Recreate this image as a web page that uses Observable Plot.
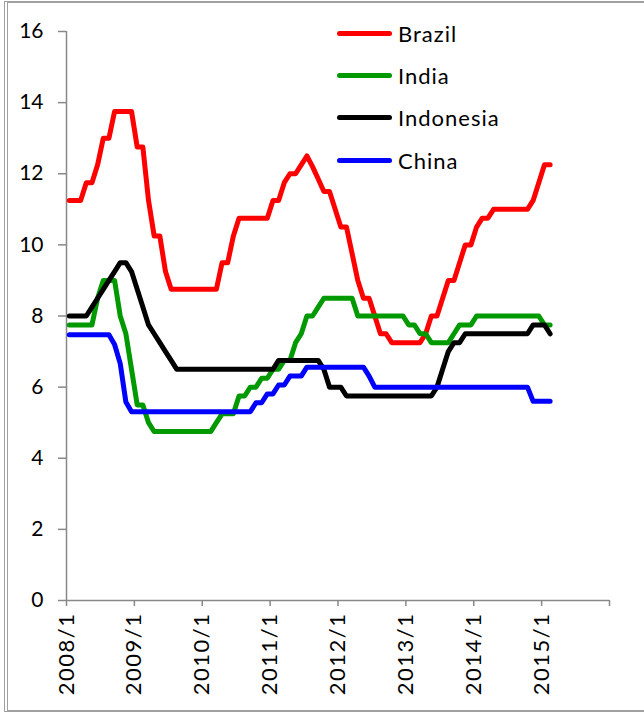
<!DOCTYPE html>
<html><head><meta charset="utf-8">
<script src="https://cdn.jsdelivr.net/npm/d3@7"></script>
<script src="https://cdn.jsdelivr.net/npm/@observablehq/plot@0.6"></script>
<style>
body{margin:0;background:#fff;}
#wrap{position:relative;width:644px;height:714px;overflow:hidden;background:#fff;}
#frame{position:absolute;left:4px;top:1px;width:660px;height:711px;border-left:4px double #a0a0a0;border-top:2px solid #a0a0a0;border-bottom:2px solid #a0a0a0;box-sizing:border-box;pointer-events:none}
#legend{position:absolute;left:337px;top:12px;font:22px Lato,sans-serif;letter-spacing:1px;color:#000}
.row{display:flex;align-items:center;height:42.4px}
.sw{width:55px;height:5px;border-radius:3px;margin-right:6px}
#chart svg g[aria-label$="tick"] line, #chart svg g[aria-label$="tick"] path{stroke:#888;stroke-width:1.5px}
#chart svg g[aria-label="x-axis tick label"] text{font-size:22px;letter-spacing:1.5px}
#chart svg g[aria-label="y-axis tick label"] text{font-size:21px}
</style></head>
<body>
<div id="wrap"><div id="chart"></div><div id="legend"></div><div id="frame"></div></div>
<script>
const countries = ["Brazil","India","Indonesia","China"];
const colors = ["#ff0000","#009900","#000000","#0000ff"];
const tickLabels = ["2008/1","2009/1","2010/1","2011/1","2012/1","2013/1","2014/1","2015/1",""];
const yTicks = [0,2,4,6,8,10,12,14,16];

// monthly values, Jan 2008 .. Feb 2015
const brazil = [11.25,11.25,11.25,11.75,11.75,12.25,13.0,13.0,13.75,13.75,13.75,13.75,
  12.75,12.75,11.25,10.25,10.25,9.25,8.75,8.75,8.75,8.75,8.75,8.75,
  8.75,8.75,8.75,9.5,9.5,10.25,10.75,10.75,10.75,10.75,10.75,10.75,
  11.25,11.25,11.75,12.0,12.0,12.25,12.5,12.2,11.85,11.5,11.5,11.0,
  10.5,10.5,9.75,9.0,8.5,8.5,8.0,7.5,7.5,7.25,7.25,7.25,
  7.25,7.25,7.25,7.5,8.0,8.0,8.5,9.0,9.0,9.5,10.0,10.0,
  10.5,10.75,10.75,11.0,11.0,11.0,11.0,11.0,11.0,11.0,11.25,11.75,
  12.25,12.25];
const india = [7.75,7.75,7.75,7.75,7.75,8.5,9.0,9.0,9.0,8.0,7.5,6.5,
  5.5,5.5,5.0,4.75,4.75,4.75,4.75,4.75,4.75,4.75,4.75,4.75,
  4.75,4.75,5.0,5.25,5.25,5.25,5.75,5.75,6.0,6.0,6.25,6.25,
  6.5,6.5,6.75,6.75,7.25,7.5,8.0,8.0,8.25,8.5,8.5,8.5,
  8.5,8.5,8.5,8.0,8.0,8.0,8.0,8.0,8.0,8.0,8.0,8.0,
  7.75,7.75,7.5,7.5,7.25,7.25,7.25,7.25,7.5,7.75,7.75,7.75,
  8.0,8.0,8.0,8.0,8.0,8.0,8.0,8.0,8.0,8.0,8.0,8.0,
  7.75,7.75];
const indonesia = [8.0,8.0,8.0,8.0,8.25,8.5,8.75,9.0,9.25,9.5,9.5,9.25,
  8.75,8.25,7.75,7.5,7.25,7.0,6.75,6.5,6.5,6.5,6.5,6.5,
  6.5,6.5,6.5,6.5,6.5,6.5,6.5,6.5,6.5,6.5,6.5,6.5,
  6.5,6.75,6.75,6.75,6.75,6.75,6.75,6.75,6.75,6.5,6.0,6.0,
  6.0,5.75,5.75,5.75,5.75,5.75,5.75,5.75,5.75,5.75,5.75,5.75,
  5.75,5.75,5.75,5.75,5.75,6.0,6.5,7.0,7.25,7.25,7.5,7.5,
  7.5,7.5,7.5,7.5,7.5,7.5,7.5,7.5,7.5,7.5,7.75,7.75,
  7.75,7.5];
const china = [7.47,7.47,7.47,7.47,7.47,7.47,7.47,7.47,7.2,6.66,5.58,5.31,
  5.31,5.31,5.31,5.31,5.31,5.31,5.31,5.31,5.31,5.31,5.31,5.31,
  5.31,5.31,5.31,5.31,5.31,5.31,5.31,5.31,5.31,5.56,5.56,5.81,
  5.81,6.06,6.06,6.31,6.31,6.31,6.56,6.56,6.56,6.56,6.56,6.56,
  6.56,6.56,6.56,6.56,6.56,6.31,6.0,6.0,6.0,6.0,6.0,6.0,
  6.0,6.0,6.0,6.0,6.0,6.0,6.0,6.0,6.0,6.0,6.0,6.0,
  6.0,6.0,6.0,6.0,6.0,6.0,6.0,6.0,6.0,6.0,5.6,5.6,
  5.6,5.6];

const seriesValues = [brazil, india, indonesia, china];
const data = seriesValues.flatMap((vals, k) =>
  vals.map((v, i) => ({country: countries[k], t: i + 0.5, v})));

const chart = Plot.plot({
  width: 644, height: 714,
  marginLeft: 66, marginRight: 35, marginTop: 31, marginBottom: 114,
  style: {fontFamily: "Lato, sans-serif", fontSize: "20px", color: "#000", background: "transparent", overflow: "visible"},
  x: {domain: [0, 96], ticks: tickLabels.map((_, i) => i * 12),
      tickFormat: (d) => tickLabels[d / 12], tickRotate: -90, tickSize: 6, tickPadding: 6, label: null},
  y: {domain: [0, 16], ticks: yTicks, tickSize: 8, tickPadding: 15, label: null},
  color: {domain: countries, range: colors},
  marks: [
    Plot.ruleX([0], {stroke: "#888", strokeWidth: 1.5}),
    Plot.ruleY([0], {stroke: "#888", strokeWidth: 1.5}),
    Plot.line(data, {x: "t", y: "v", z: "country", stroke: "country",
      strokeWidth: 5, strokeLinejoin: "round", strokeLinecap: "round"})
  ]
});
document.getElementById("chart").appendChild(chart);

const legend = document.getElementById("legend");
countries.forEach((c, k) => {
  const row = document.createElement("div");
  row.className = "row";
  const sw = document.createElement("span");
  sw.className = "sw"; sw.style.background = colors[k];
  const tx = document.createElement("span");
  tx.textContent = c;
  row.appendChild(sw); row.appendChild(tx);
  legend.appendChild(row);
});
</script>
</body></html>
